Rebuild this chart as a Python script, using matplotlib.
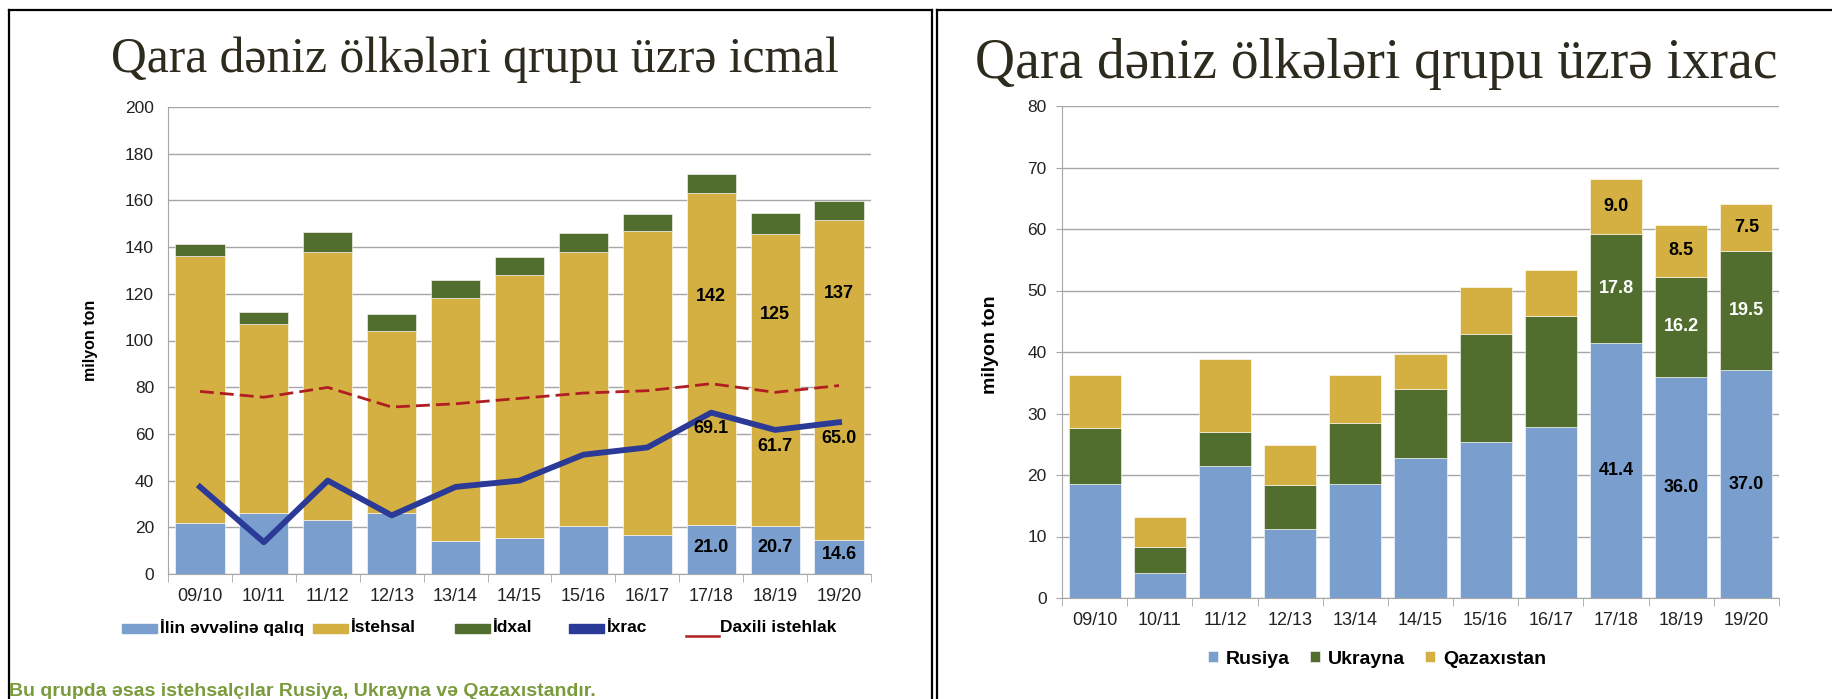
import matplotlib
matplotlib.use('Agg')
import matplotlib.pyplot as plt
from matplotlib.patches import Rectangle
from matplotlib.lines import Line2D
import numpy as np

# data
seasons = ['09/10', '10/11', '11/12', '12/13', '13/14', '14/15',
           '15/16', '16/17', '17/18', '18/19', '19/20']

# left chart: supply balance (milyon ton)
stocks = [22.0, 26.0, 23.3, 26.1, 14.1, 15.6, 20.4, 16.6, 21.0, 20.7, 14.6]
production = [114.0, 81.0, 114.7, 78.0, 104.0, 112.3, 117.6, 130.2, 142.0, 125.0, 137.0]
imports = [5.5, 5.2, 8.3, 7.1, 7.7, 7.7, 7.9, 7.2, 8.2, 8.7, 8.3]
exports = [37.3, 13.6, 40.0, 25.1, 37.3, 40.0, 51.1, 54.2, 69.1, 61.7, 65.0]
domestic = [78.2, 75.7, 79.9, 71.5, 72.9, 75.2, 77.5, 78.5, 81.5, 77.8, 80.7]

# right chart: exports by country (milyon ton)
russia = [18.6, 4.0, 21.5, 11.2, 18.6, 22.7, 25.4, 27.8, 41.4, 36.0, 37.0]
ukraine = [9.1, 4.3, 5.5, 7.2, 9.8, 11.3, 17.5, 18.1, 17.8, 16.2, 19.5]
kazakhstan = [8.5, 4.8, 11.9, 6.5, 7.9, 5.7, 7.7, 7.5, 9.0, 8.5, 7.5]

BLUE = '#7A9FCF'
GOLD = '#D4B042'
GREEN = '#526E2F'
NAVY = '#2B3A96'
RED = '#B01E23'
GRID = '#A6A6A6'
TITLE_C = '#2D2A1E'

W, H = 1833, 699
fig = plt.figure(figsize=(W / 100, H / 100), dpi=100)
plt.rcParams['font.family'] = ['Liberation Sans', 'DejaVu Sans']


def fx(px):
    return px / W


def fy(py):
    return 1 - py / H


def style_axes(ax, ymax, ystep, ytick_pad, ytick_len):
    ax.set_xlim(-0.5, len(seasons) - 0.5)
    ax.set_ylim(0, ymax)
    ax.set_yticks(np.arange(0, ymax + 1, ystep))
    ax.yaxis.grid(True, color=GRID, lw=1.0)
    ax.set_axisbelow(True)
    for s in ['top', 'right']:
        ax.spines[s].set_visible(False)
    ax.spines['left'].set_color(GRID)
    ax.spines['bottom'].set_color(GRID)
    ax.tick_params(axis='y', length=ytick_len, color=GRID, pad=ytick_pad,
                   labelsize=12.5, labelcolor='#222222')
    x = np.arange(len(seasons))
    ax.set_xticks(x)
    ax.set_xticklabels(seasons)
    ax.set_xticks(np.arange(-0.5, len(seasons)), minor=True)
    ax.tick_params(axis='x', which='major', length=0, pad=10,
                   labelsize=13, labelcolor='#222222')
    ax.tick_params(axis='x', which='minor', length=6, color=GRID)


# ---- left chart ----
ax1 = fig.add_axes([fx(168), fy(574), fx(871 - 168), (574 - 107) / H])
x = np.arange(len(seasons))
stocks_a = np.array(stocks)
prod_a = np.array(production)
imp_a = np.array(imports)

ax1.bar(x, stocks_a, width=0.77, color=BLUE, edgecolor='white', lw=0.4)
ax1.bar(x, prod_a, width=0.77, bottom=stocks_a, color=GOLD, edgecolor='white', lw=0.4)
ax1.bar(x, imp_a, width=0.77, bottom=stocks_a + prod_a, color=GREEN, edgecolor='white', lw=0.4)
ax1.plot(x, exports, color=NAVY, lw=4.2, zorder=4)
ax1.plot(x, domestic, color=RED, lw=2.0, ls=(0, (5, 2.2)), zorder=4)
style_axes(ax1, 200, 20, 10, 0)

# labels for the last three seasons
prod_label_y = [119, 111, 120.3]
for k, i in enumerate(range(8, 11)):
    ax1.text(i, prod_label_y[k], f'{production[i]:.0f}', ha='center', va='center',
             fontsize=13, fontweight='bold', color='black', zorder=5)
    ax1.text(i, stocks[i] / 2 + 1, f'{stocks[i]:.1f}', ha='center', va='center',
             fontsize=13, fontweight='bold', color='black', zorder=5)
    ax1.text(i, exports[i] - 7, f'{exports[i]:.1f}', ha='center', va='center',
             fontsize=13, fontweight='bold', color='black', zorder=5)

fig.text(fx(91), fy(340), 'milyon ton', rotation=90, ha='center', va='center',
         fontsize=11.5, fontweight='bold')

# left legend, laid out by hand
leg_y = 628
leg_items = [
    ('patch', BLUE, 122, 'İlin əvvəlinə qalıq'),
    ('patch', GOLD, 313, 'İstehsal'),
    ('patch', GREEN, 455, 'İdxal'),
    ('patch', NAVY, 569, 'İxrac'),
    ('line', RED, 686, 'Daxili istehlak'),
]
for kind, col, px, label in leg_items:
    if kind == 'patch':
        fig.add_artist(Rectangle((fx(px), fy(leg_y + 5)), fx(35), 9 / H,
                                 transform=fig.transFigure, color=col))
        tx = px + 38
    else:
        fig.add_artist(Line2D([fx(px), fx(px + 33)], [fy(leg_y + 8)] * 2,
                              transform=fig.transFigure, color=col, lw=1.8))
        tx = px + 34
    fig.text(fx(tx), fy(leg_y), label, ha='left', va='center',
             fontsize=12.5, fontweight='bold', color='black')

fig.text(fx(9), fy(692), 'Bu qrupda əsas istehsalçılar Rusiya, Ukrayna və Qazaxıstandır.',
         ha='left', va='center', fontsize=14, fontweight='bold', color='#7A9B3B')

# ---- right chart ----
ax2 = fig.add_axes([fx(1062), fy(598), fx(1779 - 1062), (598 - 106) / H])
ru = np.array(russia)
ua = np.array(ukraine)
kz = np.array(kazakhstan)
ax2.bar(x, ru, width=0.8, color=BLUE, edgecolor='white', lw=0.4, label='Rusiya')
ax2.bar(x, ua, width=0.8, bottom=ru, color=GREEN, edgecolor='white', lw=0.4, label='Ukrayna')
ax2.bar(x, kz, width=0.8, bottom=ru + ua, color=GOLD, edgecolor='white', lw=0.4, label='Qazaxıstan')
style_axes(ax2, 80, 10, 7, 4)

for i in range(8, 11):
    ax2.text(i, ru[i] / 2, f'{ru[i]:.1f}', ha='center', va='center',
             fontsize=13, fontweight='bold', color='black')
    ax2.text(i, ru[i] + ua[i] / 2, f'{ua[i]:.1f}', ha='center', va='center',
             fontsize=13, fontweight='bold', color='white')
    ax2.text(i, ru[i] + ua[i] + kz[i] / 2, f'{kz[i]:.1f}', ha='center', va='center',
             fontsize=13, fontweight='bold', color='black')

fig.text(fx(991), fy(345), 'milyon ton', rotation=90, ha='center', va='center',
         fontsize=14, fontweight='bold')

leg = ax2.legend(loc='center', bbox_to_anchor=(fx(1377), fy(659)),
                 bbox_transform=fig.transFigure, ncol=3, frameon=False,
                 handlelength=0.55, handleheight=0.55, handletextpad=0.4,
                 columnspacing=1.0, prop={'size': 14, 'weight': 'bold'})

# ---- titles ----
fig.text(fx(475), fy(72), 'Qara dəniz ölkələri qrupu üzrə icmal', ha='center',
         va='baseline', fontsize=35.7, family='Liberation Serif', color=TITLE_C)
fig.text(fx(1376), fy(78), 'Qara dəniz ölkələri qrupu üzrə ixrac', ha='center',
         va='baseline', fontsize=40, family='Liberation Serif', color=TITLE_C)

# ---- panel borders ----
border = dict(transform=fig.transFigure, color='black', lw=1.6)
fig.add_artist(Line2D([fx(9), fx(932)], [fy(10), fy(10)], **border))
fig.add_artist(Line2D([fx(9), fx(9)], [fy(10), 0], **border))
fig.add_artist(Line2D([fx(932), fx(932)], [fy(10), 0], **border))
fig.add_artist(Line2D([fx(937), fx(937)], [fy(10), 0], **border))
fig.add_artist(Line2D([fx(937), 1], [fy(10), fy(10)], **border))

fig.savefig('out.png', dpi=100)
